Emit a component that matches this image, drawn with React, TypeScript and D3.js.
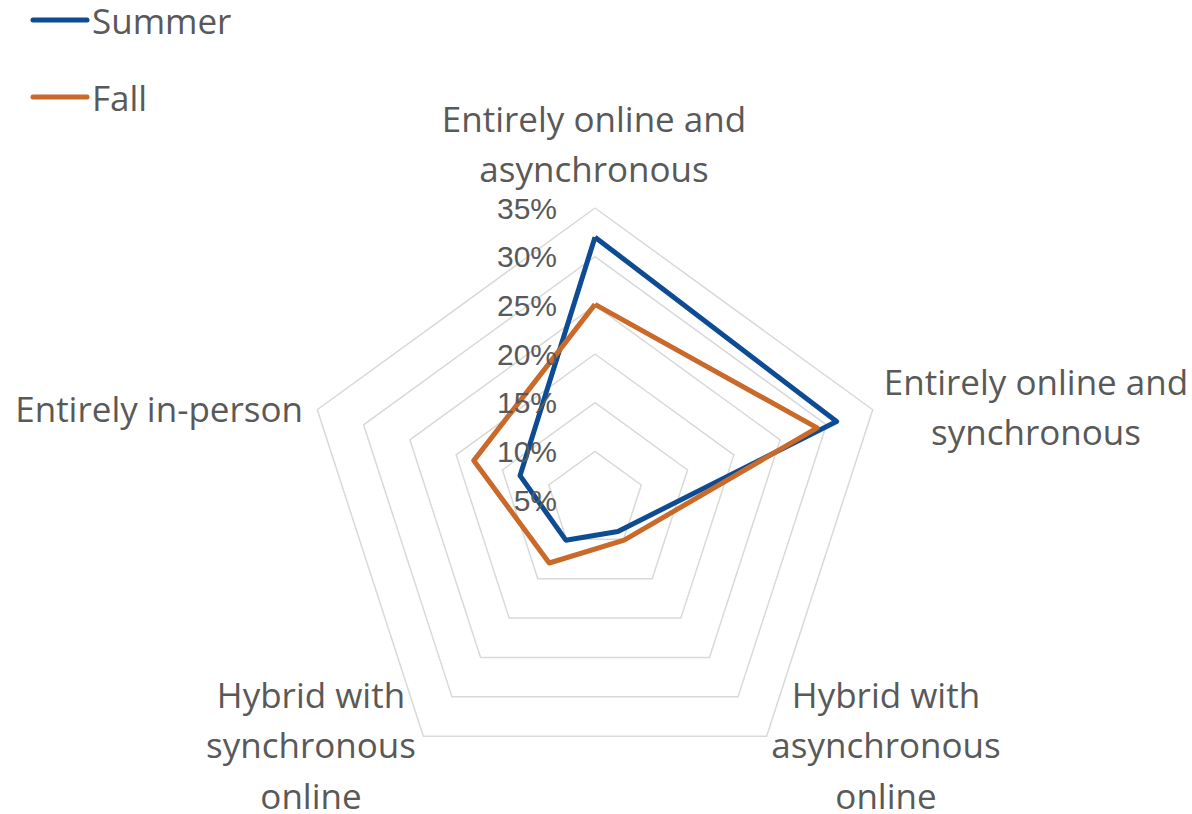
import React from "react";
import * as d3 from "d3";

const categories: string[][] = [
  ["Entirely online and", "asynchronous"],
  ["Entirely online and", "synchronous"],
  ["Hybrid with", "asynchronous", "online"],
  ["Hybrid with", "synchronous", "online"],
  ["Entirely in-person"],
];
const summer: number[] = [32.0, 31.1, 9.0, 10.1, 13.1];
const fall: number[] = [25.1, 29.0, 10.1, 13.0, 18.1];
const ticks: number[] = [5, 10, 15, 20, 25, 30, 35];
const seriesNames = ["Summer", "Fall"];
const colors = ["#0D4C92", "#C96A2A"];

const W = 1192;
const H = 814;
const cx = 595;
const cy = 500;
const R = 292;
const FONT = "'Open Sans', 'Noto Sans', sans-serif";
const TEXT = "#595959";

export default function App() {
  const r = d3.scaleLinear().domain([5, 35]).range([0, R]);
  const angle = (i: number) => (i * 2 * Math.PI) / categories.length;
  const pt = (i: number, v: number): [number, number] => [
    cx + r(v) * Math.sin(angle(i)),
    cy - r(v) * Math.cos(angle(i)),
  ];
  const ringPath = (v: number) =>
    d3.line()(categories.map((_, i) => pt(i, v)).concat([pt(0, v)])) || "";
  const seriesPath = (vals: number[]) =>
    d3.line()(vals.map((v, i) => pt(i, v)).concat([pt(0, vals[0])])) || "";

  const labelPos: [number, number, string][] = [
    [594, 118, "middle"],
    [1036, 381, "middle"],
    [886, 694, "middle"],
    [311, 694, "middle"],
    [303, 408, "end"],
  ];
  const lineH = 50.5;

  return (
    <svg width={W} height={H} style={{ position: "absolute", left: 0, top: 0, background: "#fff" }}>
      <rect width={W} height={H} fill="#fff" />
      {ticks.slice(1).map((t) => (
        <path key={t} d={ringPath(t)} fill="none" stroke="#D9D9D9" strokeWidth={1.5} />
      ))}
      {seriesNames.map((name, si) => (
        <path
          key={name}
          d={seriesPath(si === 0 ? summer : fall)}
          fill="none"
          stroke={colors[si]}
          strokeWidth={5}
          strokeLinejoin="round"
        />
      ))}
      {ticks.map((t) => (
        <text
          key={t}
          x={557}
          y={cy - r(t)}
          textAnchor="end"
          dominantBaseline="central"
          fontFamily="'Liberation Sans', Arial, sans-serif"
          fontSize={30}
          fill={TEXT}
        >
          {t + "%"}
        </text>
      ))}
      {categories.map((lines, i) => (
        <text
          key={i}
          fontFamily={FONT}
          fontSize={35}
          fill={TEXT}
          textAnchor={labelPos[i][2] as any}
        >
          {lines.map((ln, j) => (
            <tspan key={j} x={labelPos[i][0]} y={labelPos[i][1] + j * lineH} dominantBaseline="central">
              {ln}
            </tspan>
          ))}
        </text>
      ))}
      {seriesNames.map((name, si) => (
        <g key={name} transform={`translate(0, ${20 + si * 77})`}>
          <line x1={33} x2={87} y1={0} y2={0} stroke={colors[si]} strokeWidth={5} strokeLinecap="round" />
          <text x={92} y={0} dominantBaseline="central" fontFamily={FONT} fontSize={35} fill={TEXT}>
            {name}
          </text>
        </g>
      ))}
    </svg>
  );
}
